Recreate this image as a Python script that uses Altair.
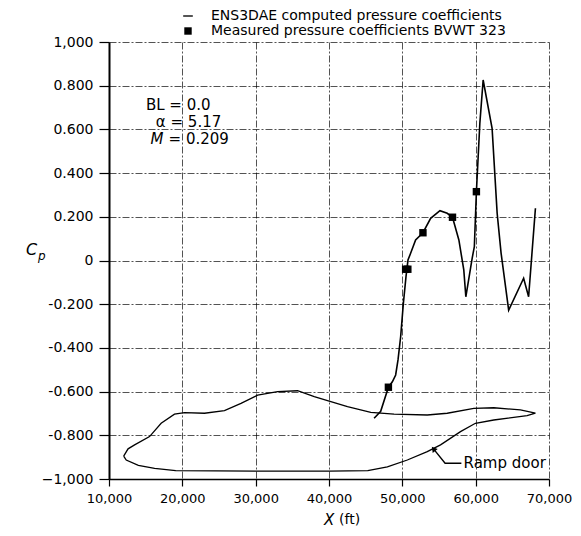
import altair as alt
import pandas as pd

# ---- data ----
cfd_x = [46150, 47050, 48100, 48640, 49090, 49410, 49770, 50140, 50500, 50770,
         51130, 51810, 52810, 53860, 55130, 56120, 56840, 57710, 58380, 58660,
         59520, 59820, 60100, 60570, 61020, 62240, 62930, 63470, 64500, 66540,
         67220, 68150]
cfd_cp = [-0.722, -0.690, -0.580, -0.555, -0.524, -0.455, -0.349, -0.196, -0.074, 0.002,
          0.033, 0.094, 0.127, 0.193, 0.228, 0.216, 0.198, 0.094, -0.043, -0.166,
          0.010, 0.063, 0.315, 0.628, 0.826, 0.605, 0.216, 0.033, -0.227, -0.081,
          -0.166, 0.239]

meas_x = [48100, 50450, 50750, 52810, 56840, 60100]
meas_cp = [-0.580, -0.040, -0.040, 0.127, 0.198, 0.315]

# aircraft side profile (closed outline), drawn in the same axes
prof_x = [12000, 12600, 13490, 15530, 17110, 18930, 20300, 23020, 25740, 28000,
          30270, 32990, 35710, 37990, 40250, 42520, 45700, 48870, 53400, 56120,
          59750, 62470, 66100, 68150,
          67010, 62470, 59970, 57930, 55210, 53400, 50680, 47960, 45290, 40000,
          30000, 19090, 16220, 14000, 12350, 12000]
prof_cp = [-0.895, -0.862, -0.844, -0.806, -0.745, -0.703, -0.696, -0.699, -0.687, -0.654,
           -0.616, -0.600, -0.596, -0.623, -0.646, -0.669, -0.695, -0.703, -0.707, -0.699,
           -0.677, -0.674, -0.684, -0.699,
           -0.710, -0.730, -0.745, -0.783, -0.844, -0.875, -0.913, -0.944, -0.962, -0.964,
           -0.964, -0.962, -0.951, -0.938, -0.913, -0.895]

x_ticks = [10000, 20000, 30000, 40000, 50000, 60000, 70000]
y_ticks = [-1.0, -0.8, -0.6, -0.4, -0.2, 0.0, 0.2, 0.4, 0.6, 0.8, 1.0]

series_names = ["ENS3DAE computed pressure coefficients",
                "Measured pressure coefficients BVWT 323"]

note_text = ["BL = 0.0", "\u03b1 = 5.17", "= 0.209"]
note_x = [15030, 16390, 18130]
note_cp = [0.710, 0.635, 0.555]

ramp_label = "Ramp door"
ramp_x = [58350]
ramp_cp = [-0.928]
arrow_x = [58050, 55830, 54250]
arrow_cp = [-0.928, -0.928, -0.862]

FONT = "DejaVu Sans"

# ---- tables ----
cfd = pd.DataFrame({"X": cfd_x, "Cp": cfd_cp, "i": range(len(cfd_x))})
meas = pd.DataFrame({"X": meas_x, "Cp": meas_cp, "series": series_names[1]})
prof = pd.DataFrame({"X": prof_x, "Cp": prof_cp, "i": range(len(prof_x))})
notes = pd.DataFrame({"X": note_x, "Cp": note_cp, "t": note_text})
mnote = pd.DataFrame({"X": [15650], "Cp": [0.555], "t": ["M"]})
ramp = pd.DataFrame({"X": ramp_x, "Cp": ramp_cp, "t": [ramp_label]})
arrow = pd.DataFrame({"X": arrow_x, "Cp": arrow_cp, "i": range(len(arrow_x))})
head = pd.DataFrame({"X": [arrow_x[-1]], "Cp": [arrow_cp[-1]]})

xs = alt.Scale(domain=[10000, 70000], nice=False, zero=False)
ys = alt.Scale(domain=[-1.0, 1.0], nice=False, zero=False)

x_axis = alt.Axis(values=x_ticks, format=",d", title=None, grid=True,
                  labelFontSize=13, labelPadding=6, tickSize=7,
                  labelOverlap=False, labelFlush=False, labelBound=False,
                  domainWidth=1.6, tickWidth=1.2)
y_axis = alt.Axis(values=y_ticks, title=None, grid=True,
                  labelExpr="datum.value == 0 ? '0' : datum.value == 1 ? '1,000' : datum.value == -1 ? '\u22121,000' : replace(format(datum.value, '.3f'), '\u2212', '-')",
                  labelFontSize=14, labelPadding=6, tickSize=10,
                  labelOverlap=False, labelFlush=False,
                  domainWidth=2, tickWidth=1.2)

X = alt.X("X:Q", scale=xs, axis=x_axis)
Y = alt.Y("Cp:Q", scale=ys, axis=y_axis)

profile = alt.Chart(prof).mark_line(color="black", strokeWidth=1.3).encode(
    x=X, y=Y, order="i:Q")

cfd_line = alt.Chart(cfd).mark_line(color="black", strokeWidth=1.6).encode(
    x=X, y=Y, order="i:Q")

points = alt.Chart(meas).mark_point(filled=True, color="black", size=55, opacity=1).encode(
    x=X, y=Y,
    shape=alt.Shape("series:N",
                    scale=alt.Scale(domain=series_names,
                                    range=["M-1.3,-0.18H1.3V0.18H-1.3Z", "square"]),
                    legend=alt.Legend(title=None, orient="none", legendX=72, legendY=-33,
                                      labelFont=FONT, labelFontSize=14, labelColor="black",
                                      symbolSize=55, symbolFillColor="black",
                                      labelOffset=16, rowPadding=1, labelLimit=500)))

note_layer = alt.Chart(notes).mark_text(align="left", baseline="middle", font=FONT,
                                        fontSize=15, color="black").encode(
    x=X, y=Y, text="t:N")
m_layer = alt.Chart(mnote).mark_text(align="left", baseline="middle", font=FONT,
                                     fontSize=15, fontStyle="italic", color="black").encode(
    x=X, y=Y, text="t:N")

ramp_text = alt.Chart(ramp).mark_text(align="left", baseline="middle", font=FONT,
                                      fontSize=15, color="black").encode(
    x=X, y=Y, text="t:N")
arrow_line = alt.Chart(arrow).mark_line(color="black", strokeWidth=1.4).encode(
    x=X, y=Y, order="i:Q")
arrow_head = alt.Chart(head).mark_point(shape="triangle-up", filled=True, color="black",
                                        size=40, angle=322, opacity=1).encode(x=X, y=Y)

# axis titles with italic / subscript pieces
cp_c = alt.Chart(pd.DataFrame({"t": ["C"]})).mark_text(
    font=FONT, fontSize=16, fontStyle="italic", color="black", align="left", baseline="middle"
).encode(x=alt.value(-83), y=alt.value(208), text="t:N")
cp_p = alt.Chart(pd.DataFrame({"t": ["p"]})).mark_text(
    font=FONT, fontSize=12, fontStyle="italic", color="black", align="left", baseline="middle"
).encode(x=alt.value(-71), y=alt.value(214), text="t:N")
xt_x = alt.Chart(pd.DataFrame({"t": ["X"]})).mark_text(
    font=FONT, fontSize=15, fontStyle="italic", color="black", align="left", baseline="middle"
).encode(x=alt.value(215), y=alt.value(478), text="t:N")
xt_ft = alt.Chart(pd.DataFrame({"t": ["(ft)"]})).mark_text(
    font=FONT, fontSize=14, color="black", align="left", baseline="middle"
).encode(x=alt.value(230), y=alt.value(478), text="t:N")

chart = alt.layer(
    profile, cfd_line, points, note_layer, m_layer, ramp_text, arrow_line, arrow_head,
    cp_c, cp_p, xt_x, xt_ft
).properties(
    width=440, height=437,
    autosize=alt.AutoSizeParams(type="none"),
    padding={"left": 101, "top": 34, "right": 24, "bottom": 49},
    background="white",
).configure_view(strokeWidth=0).configure_axis(
    labelFont=FONT, labelColor="black", domainColor="black", tickColor="black",
    gridColor="black", gridOpacity=0.85, gridWidth=0.8, gridDash=[7, 2, 2, 2],
)

chart.save("out.html", embed_options={"renderer": "svg", "actions": False})
